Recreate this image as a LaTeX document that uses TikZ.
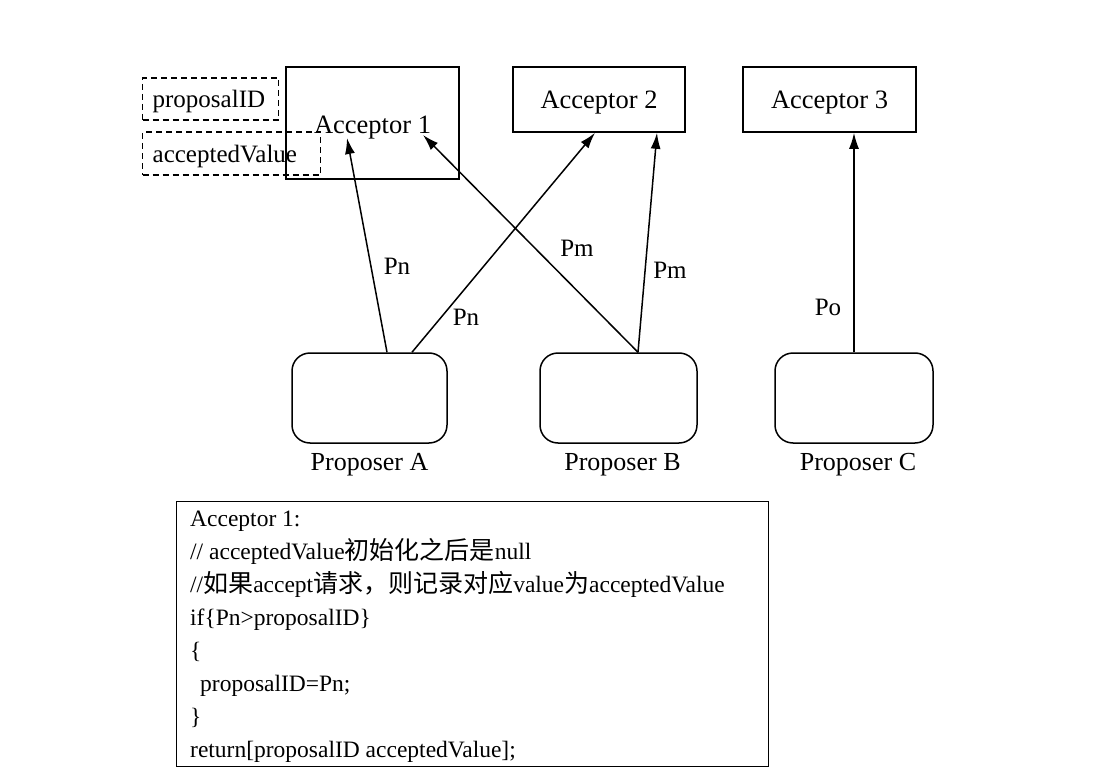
\documentclass[tikz,border=0pt]{standalone}
\usepackage{fontspec}
\setmainfont{Liberation Serif}
\newfontfamily\cjk{Noto Sans CJK SC}
\usetikzlibrary{arrows.meta}
\newcommand{\zh}[1]{{\cjk\fontsize{25}{33}\selectfont #1}}
\begin{document}
\begin{tikzpicture}[x=1pt,y=-1pt,
  accbox/.style={draw, line width=1.6pt, inner sep=0pt, text depth=0pt, font=\fontsize{26.5}{30}\selectfont},
  dbox/.style={draw, dash pattern=on 6pt off 4pt, line width=1.3pt, inner xsep=10pt, inner ysep=0pt, text depth=0pt, align=left, font=\fontsize{25}{28}\selectfont},
  prop/.style={draw, rounded corners=18pt, line width=1.5pt, minimum height=90pt, inner sep=0pt},
  plabel/.style={font=\fontsize{26}{28}\selectfont, below=6pt},
  arr/.style={line width=1.5pt, -{Latex[length=16pt,width=10pt]}},
  lbl/.style={font=\fontsize{25}{28}\selectfont}]
\useasboundingbox (0,0) rectangle (1112,784);

% acceptors
\node[accbox, minimum width=173pt, minimum height=112pt] (acc1) at (372.5,123) {\raisebox{-3pt}{Acceptor 1}};
\node[accbox, minimum width=172pt, minimum height=65pt] (acc2) at (599,99.5) {Acceptor 2};
\node[accbox, minimum width=173pt, minimum height=65pt] (acc3) at (829.5,99.5) {Acceptor 3};

% dashed fields
\node[dbox, text width=116pt, minimum height=42pt, anchor=west] (pid) at (142,99) {proposalID};
\node[dbox, text width=158pt, minimum height=43pt, anchor=west] (acv) at (142,153.5) {acceptedValue};

% proposers
\node[prop, minimum width=155pt] (pA) at (369.5,398) {};
\node[prop, minimum width=157pt] (pB) at (618.5,398) {};
\node[prop, minimum width=158pt] (pC) at (854,398) {};
\node[plabel] (lA) at (pA.south) {Proposer A};
\node[plabel] (lB) at ([xshift=4pt]pB.south) {Proposer B};
\node[plabel] (lC) at ([xshift=4pt]pC.south) {Proposer C};

% connectors
\draw[arr] ([xshift=17.5pt]pA.north) -- ([xshift=-25.5pt,yshift=-15pt]acc1.center);
\draw[arr] ([xshift=42.5pt]pA.north) -- ([xshift=-4pt]acc2.south);
\draw[arr] ([xshift=19.5pt]pB.north) -- ([xshift=50.5pt,yshift=-12pt]acc1.center);
\draw[arr] ([xshift=19.5pt]pB.north) -- ([xshift=58pt]acc2.south);
\draw[arr] (pC.north) -- (pC.north |- acc3.south);

% connector labels
\node[lbl] (l1) at (397,266) {Pn};
\node[lbl] (l2) at (466,317) {Pn};
\node[lbl] (l3) at (577,248) {Pm};
\node[lbl] (l4) at (670,270) {Pm};
\node[lbl] (l5) at (828,307) {Po};

% code box
\node[draw, line width=1.4pt, minimum width=592pt, minimum height=265pt, anchor=north west, inner sep=0pt] (code) at (176,501) {};
\node[anchor=north west, align=left, inner sep=0pt, font=\fontsize{23.5}{33}\selectfont] (codetxt) at (190,511) {%
Acceptor 1:\\
// acceptedValue\zh{初始化之后是}null\\
//\zh{如果}accept\zh{请求，则记录对应}value\zh{为}acceptedValue\\
if\{Pn>proposalID\}\\
\{\\
\hspace*{10pt}proposalID=Pn;\\
\}\\
return[proposalID acceptedValue];};
\end{tikzpicture}
\end{document}
